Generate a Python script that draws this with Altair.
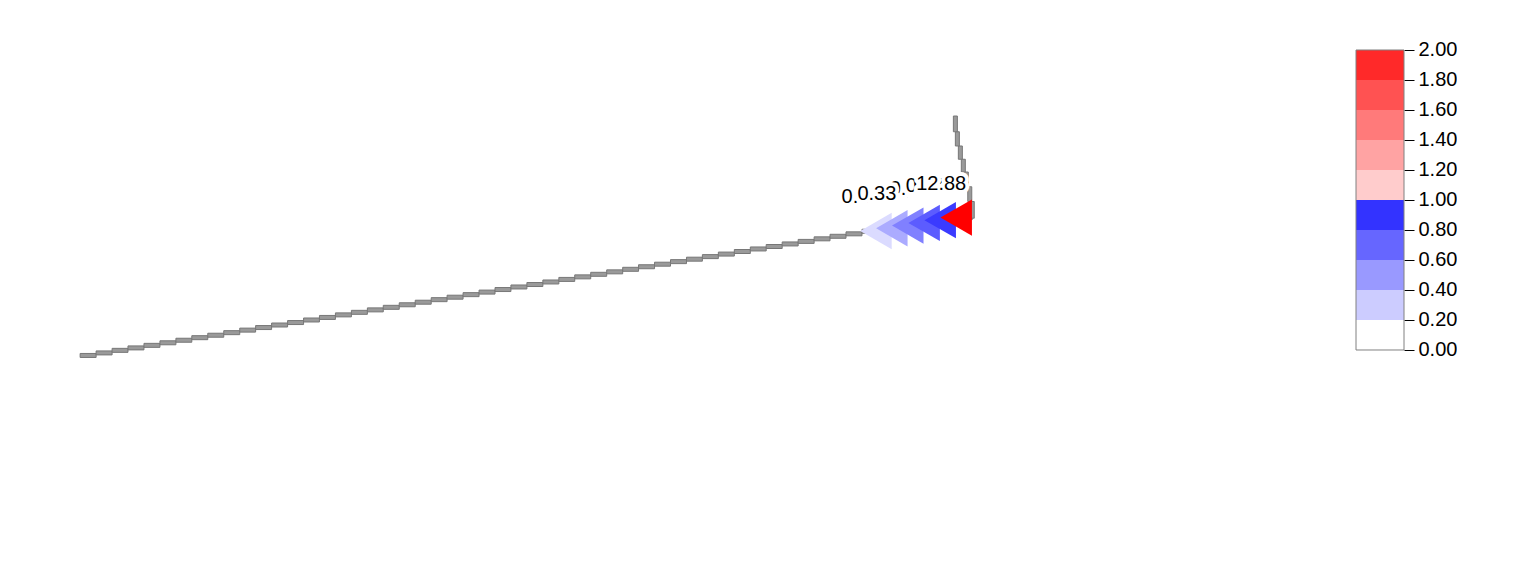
import altair as alt
import pandas as pd

# ---------------- data ----------------
# westward stair-stepped track (west end first)
stair_lon = [7.57, 9.18, 10.79, 12.39, 14.00, 15.61, 17.22, 18.82, 20.43, 22.04,
             23.65, 25.25, 26.86, 28.47, 30.08, 31.68, 33.29, 34.90, 36.51, 38.11,
             39.72, 41.33, 42.94, 44.54, 46.15, 47.76, 49.37, 50.97, 52.58, 54.19,
             55.80, 57.40, 59.01, 60.62, 62.23, 63.83, 65.44, 67.05, 68.66, 70.26,
             71.87, 73.48, 75.09, 76.69, 78.30, 79.91, 81.52, 83.12, 84.73, 86.34]
stair_lat = [21.53, 21.79, 22.05, 22.30, 22.56, 22.82, 23.08, 23.34, 23.59, 23.85,
             24.11, 24.37, 24.63, 24.88, 25.14, 25.40, 25.66, 25.92, 26.17, 26.43,
             26.69, 26.95, 27.21, 27.46, 27.72, 27.98, 28.24, 28.50, 28.75, 29.01,
             29.27, 29.53, 29.79, 30.04, 30.30, 30.56, 30.82, 31.08, 31.33, 31.59,
             31.85, 32.11, 32.37, 32.62, 32.88, 33.14, 33.40, 33.66, 33.91, 34.17]

# marked points (triangles) with their values
tri_lon = [87.75, 89.35, 90.95, 92.60, 94.22, 95.83]
tri_lat = [34.20, 34.48, 34.75, 35.02, 35.30, 35.56]
tri_value = [0.14, 0.33, 0.50, 0.64, 0.77, 12.88]

# northern part of the track (bottom first)
north_lon = [97.45, 97.20, 96.85, 96.55, 96.25, 95.95, 95.75, 95.75]
north_lat = [35.50, 37.20, 38.70, 40.20, 41.50, 42.85, 44.30, 45.90]

# colour legend
legend_breaks = [0.0, 0.2, 0.4, 0.6, 0.8, 1.0, 1.2, 1.4, 1.6, 1.8, 2.0]
legend_colors = ["#ffffff", "#ccccff", "#9999ff", "#6666ff", "#3333ff",
                 "#ffcccc", "#ffa3a3", "#ff7a7a", "#ff5252", "#ff2929"]

# drawing order of the value labels (bottom to top)
label_order = [0, 2, 3, 4, 5, 1]

FONT = "Liberation Sans, Arial, sans-serif"

# ---------------- tables ----------------
path_lon = stair_lon + tri_lon + north_lon
path_lat = stair_lat + tri_lat + north_lat
h_rows, v_rows = [], []
for a in range(len(path_lon) - 1):
    dx = abs(path_lon[a + 1] - path_lon[a])
    dy = abs(path_lat[a + 1] - path_lat[a])
    if dx >= dy:
        h_rows.append({"lon": path_lon[a], "lon2": path_lon[a + 1], "lat": path_lat[a]})
    else:
        v_rows.append({"lon": path_lon[a], "lat": path_lat[a], "lat2": path_lat[a + 1]})
h_df = pd.DataFrame(h_rows)
v_df = pd.DataFrame(v_rows)

tri_df = pd.DataFrame({
    "idx": list(range(len(tri_value))),
    "lon": tri_lon,
    "lat": tri_lat,
    "value": tri_value,
    "label": [f"{v:.2f}" for v in tri_value],
})

xs = alt.Scale(domain=[0, 134.5], nice=False, zero=False)
ys = alt.Scale(domain=[0, 57.2], nice=False, zero=False)

h_bars = alt.Chart(h_df).mark_bar(height=4, fill="#9a9a9a", stroke="#777777", strokeWidth=1).encode(
    x=alt.X("lon:Q", scale=xs, axis=None),
    x2="lon2:Q",
    y=alt.Y("lat:Q", scale=ys, axis=None),
)
v_bars = alt.Chart(v_df).mark_bar(width=4, fill="#9a9a9a", stroke="#777777", strokeWidth=1).encode(
    x=alt.X("lon:Q", scale=xs, axis=None),
    y=alt.Y("lat:Q", scale=ys, axis=None),
    y2="lat2:Q",
)

tri = alt.Chart(tri_df).mark_point(shape="triangle-left", size=1320, filled=True,
                                    opacity=1, strokeWidth=0).encode(
    x=alt.X("lon:Q", scale=xs, axis=None),
    y=alt.Y("lat:Q", scale=ys, axis=None),
    color=alt.Color("value:Q",
                    scale=alt.Scale(domain=[0, 1, 1.0001, 2],
                                    range=["#ffffff", "#0000ff", "#ffcccc", "#ff0000"],
                                    interpolate="rgb", clamp=True),
                    legend=None),
    order=alt.Order("idx:Q"),
)

label_layers = []
for i in label_order:
    base = alt.Chart(tri_df).transform_filter(alt.datum.idx == i)
    enc = dict(x=alt.X("lon:Q", scale=xs, axis=None),
               y=alt.Y("lat:Q", scale=ys, axis=None),
               text="label:N")
    halo = base.mark_text(align="center", baseline="alphabetic", dx=-15, dy=-28,
                          font=FONT, fontSize=20, fill="white", stroke="white",
                          strokeWidth=8, strokeJoin="round").encode(**enc)
    txt = base.mark_text(align="center", baseline="alphabetic", dx=-15, dy=-28,
                         font=FONT, fontSize=20, fill="black").encode(**enc)
    label_layers += [halo, txt]

map_chart = alt.layer(h_bars, v_bars, tri, *label_layers).properties(width=1345, height=572)

# ---------------- legend panel ----------------
leg_df = pd.DataFrame({"lo": legend_breaks[:-1], "hi": legend_breaks[1:], "color": legend_colors})
border_df = pd.DataFrame({"lo": [legend_breaks[0]], "hi": [legend_breaks[-1]]})
yl = alt.Scale(domain=[-1.48, 2.3333], nice=False, zero=False)

bands = alt.Chart(leg_df).mark_rect().encode(
    x=alt.value(0), x2=alt.value(48),
    y=alt.Y("lo:Q", scale=yl,
            axis=alt.Axis(orient="right", values=legend_breaks, format=".2f",
                          tickSize=10, tickColor="black", tickWidth=1,
                          domain=False, grid=False, title=None,
                          labelFont=FONT, labelFontSize=20, labelColor="black",
                          labelPadding=4)),
    y2="hi:Q",
    color=alt.Color("color:N", scale=None),
)
border = alt.Chart(border_df).mark_rect(fillOpacity=0, stroke="#808080", strokeWidth=1).encode(
    x=alt.value(0), x2=alt.value(48),
    y=alt.Y("lo:Q", scale=yl),
    y2="hi:Q",
)
legend_chart = alt.layer(bands, border).properties(width=48, height=572)

chart = alt.hconcat(map_chart, legend_chart, spacing=10).properties(
    padding=0, background="white"
).configure_view(stroke=None)

chart.save("out.html", embed_options={"renderer": "svg", "actions": False})
